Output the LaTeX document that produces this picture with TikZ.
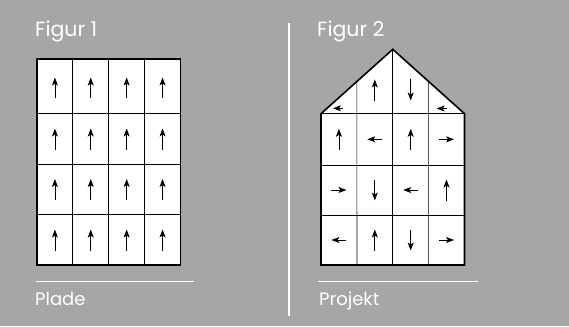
\documentclass[tikz,border=0pt]{standalone}
\usepackage{fontspec}
\setmainfont{Poppins}
\usetikzlibrary{arrows.meta,calc}
\definecolor{bg}{HTML}{A6A6A6}
\begin{document}
\begin{tikzpicture}[x=1pt,y=-1pt,
  arr/.style={-{Stealth[length=8pt,width=6pt,inset=2pt]},line width=0.8pt},
  lbl/.style={text=white,font=\fontsize{20.5}{20}\selectfont,anchor=base west,inner sep=0pt},
  sub/.style={text=white,font=\fontsize{18}{18}\selectfont,anchor=base west,inner sep=0pt},
  rule/.style={white,line width=1pt},
  gridline/.style={line width=0.7pt},
  outline/.style={line width=1.6pt,line join=miter}]
\fill[bg] (0,0) rectangle (569,326);
\useasboundingbox (0,0) rectangle (569,326);

% labels
\node[lbl] (f1) at (35,36.7) {Figur 1};
\node[lbl] (f2) at (317,36.7) {Figur 2};
\node[sub] (plade) at (35,305) {Plade};
\node[sub] (projekt) at (319,305) {Projekt};

% rules and divider
\coordinate (r1a) at (36,281.5); \coordinate (r1b) at (194,281.5);
\coordinate (r2a) at (318,281.5); \coordinate (r2b) at (478,281.5);
\coordinate (da) at (289,23); \coordinate (db) at (289,316);
\draw[rule] (r1a) -- (r1b);
\draw[rule] (r2a) -- (r2b);
\draw[white,line width=1.3pt] (da) -- (db);

% Figure 1 : plate
\fill[white] (37,59.3) rectangle (180.5,265);
\foreach \x in {72.8,108.7,144.6} \draw[gridline] (\x,59.3) -- (\x,265);
\foreach \y in {113.7,164,214.7} \draw[gridline] (37,\y) -- (180.5,\y);
\draw[outline] (37,59.3) rectangle (180.5,265);
\foreach \cy in {88,139,189.5,240}
  \foreach \cx in {54.9,90.75,126.65,162.55}
    \draw[arr] (\cx,\cy+10.5) -- (\cx,\cy-10.5);

% Figure 2 : project (house)
\coordinate (bl) at (321,265);
\coordinate (br) at (464.5,265);
\coordinate (el) at (321,113.7);
\coordinate (er) at (464.5,113.7);
\coordinate (apex) at (392.75,49.3);
\fill[white] (el) -- (apex) -- (er) -- (br) -- (bl) -- cycle;
\draw[gridline] ($(el)!0.5!(apex)$) -- (356.9,265);
\draw[gridline] (apex) -- (392.75,265);
\draw[gridline] ($(er)!0.5!(apex)$) -- (428.6,265);
\foreach \y in {113.7,165,215} \draw[gridline] (321,\y) -- (464.5,\y);
\draw[outline] (el) -- (apex) -- (er) -- (br) -- (bl) -- cycle;

% roof arrows
\draw[arr] (343,108.3) -- (333,108.3);
\draw[arr] (446.7,108.5) -- (436.7,108.5);
\draw[arr] (374.8,100.5) -- (374.8,79.5);
\draw[arr] (410.7,79.5) -- (410.7,100.5);
% row 1
\draw[arr] (338.9,149.8) -- (338.9,128.8);
\draw[arr] (382.3,139.3) -- (367.3,139.3);
\draw[arr] (410.7,149.8) -- (410.7,128.8);
\draw[arr] (439,139.3) -- (454,139.3);
% row 2
\draw[arr] (331.4,190) -- (346.4,190);
\draw[arr] (374.8,179.5) -- (374.8,200.5);
\draw[arr] (418.2,190) -- (403.2,190);
\draw[arr] (446.5,200.5) -- (446.5,179.5);
% row 3
\draw[arr] (346.4,240) -- (331.4,240);
\draw[arr] (374.8,250.5) -- (374.8,229.5);
\draw[arr] (410.7,229.5) -- (410.7,250.5);
\draw[arr] (439,240) -- (454,240);
\end{tikzpicture}
\end{document}
